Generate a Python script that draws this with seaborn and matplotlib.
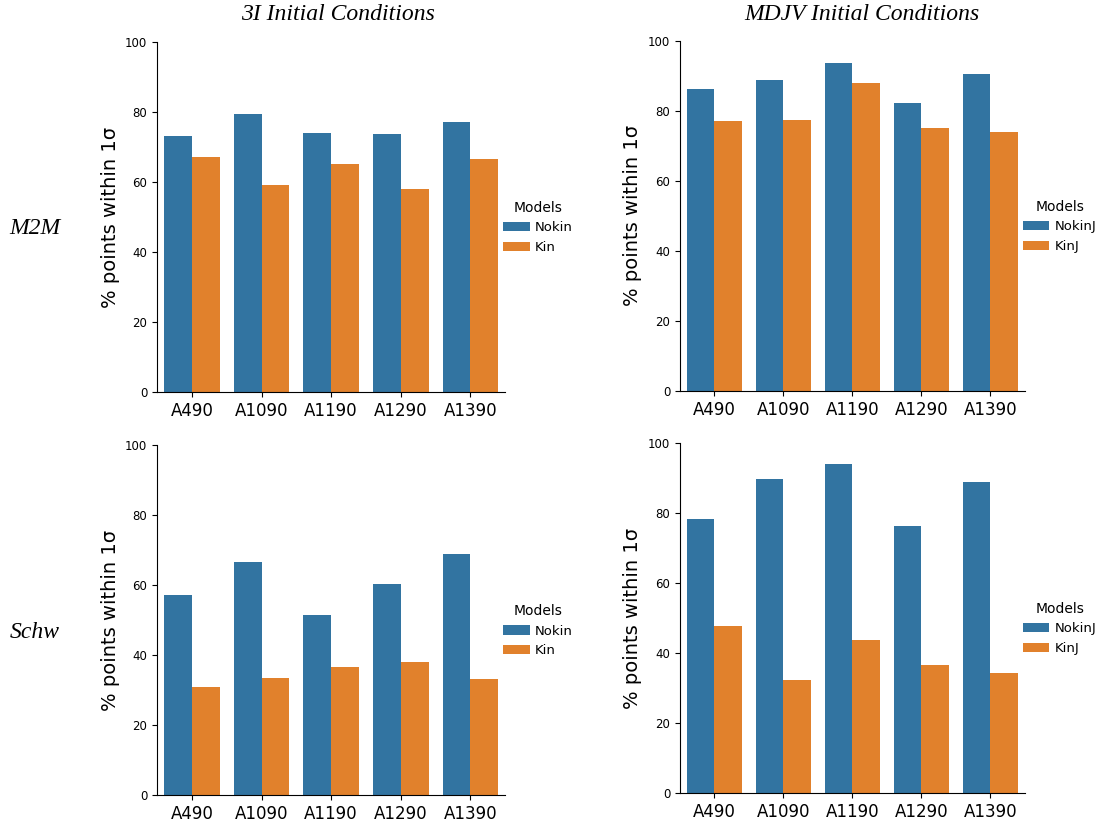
import pandas as pd
import seaborn as sns
import matplotlib.pyplot as plt

'''
DATA
'''
clusters = ['A490', 'A1090', 'A1190', 'A1290', 'A1390']

# 3I initial conditions
m2m_3i_nokin = [73.0, 79.3, 73.9, 73.7, 77.0]
m2m_3i_kin = [67.0, 59.1, 65.0, 57.9, 66.7]
schw_3i_nokin = [57.1, 66.5, 51.5, 60.4, 69.0]
schw_3i_kin = [30.8, 33.3, 36.5, 37.9, 33.1]

# MDJV initial conditions
m2m_mdjv_nokin = [86.2, 88.8, 93.6, 82.3, 90.5]
m2m_mdjv_kin = [77.0, 77.5, 88.1, 75.2, 74.0]
schw_mdjv_nokin = [78.3, 89.8, 94.1, 76.4, 88.9]
schw_mdjv_kin = [47.7, 32.4, 43.6, 36.5, 34.3]

col_titles = ['3I Initial Conditions', 'MDJV Initial Conditions']
row_titles = ['M2M', 'Schw']


def make_df(nokin, kin, names):
    df = pd.DataFrame({
        'cluster': clusters * 2,
        'pct': nokin + kin,
        'Models': [names[0]] * len(clusters) + [names[1]] * len(clusters),
    })
    return df


panels = [
    (make_df(m2m_3i_nokin, m2m_3i_kin, ['Nokin', 'Kin']), [0.1425, 0.5237, 0.316, 0.4253]),
    (make_df(m2m_mdjv_nokin, m2m_mdjv_kin, ['NokinJ', 'KinJ']), [0.617, 0.5250, 0.313, 0.4253]),
    (make_df(schw_3i_nokin, schw_3i_kin, ['Nokin', 'Kin']), [0.1425, 0.0340, 0.316, 0.4253]),
    (make_df(schw_mdjv_nokin, schw_mdjv_kin, ['NokinJ', 'KinJ']), [0.617, 0.0365, 0.313, 0.4253]),
]

'''
PLOT
'''
fig = plt.figure(figsize=(11.02, 8.23), dpi=100)

for df, pos in panels:
    ax = fig.add_axes(pos)
    sns.barplot(data=df, x='cluster', y='pct', hue='Models', ax=ax)
    ax.set_ylim(0, 100)
    ax.set_xlabel('')
    ax.set_ylabel('% points within 1σ', fontsize=14)
    ax.tick_params(axis='x', labelsize=12)
    ax.tick_params(axis='y', labelsize=8.5)
    sns.despine(ax=ax)
    sns.move_legend(ax, loc='center left', bbox_to_anchor=(0.96, 0.47),
                    frameon=False, fontsize=9.5, title_fontsize=10,
                    handletextpad=0.4)

fig.text(338 / 1102, 1 - 15 / 823, col_titles[0], ha='center', va='center',
         family='Liberation Serif', style='italic', fontsize=17)
fig.text(862 / 1102, 1 - 15 / 823, col_titles[1], ha='center', va='center',
         family='Liberation Serif', style='italic', fontsize=17)
fig.text(35 / 1102, 1 - 228 / 823, row_titles[0], ha='center', va='center',
         family='Liberation Serif', style='italic', fontsize=17)
fig.text(35 / 1102, 1 - 632 / 823, row_titles[1], ha='center', va='center',
         family='Liberation Serif', style='italic', fontsize=17)

fig.savefig('out.png', dpi=100)
